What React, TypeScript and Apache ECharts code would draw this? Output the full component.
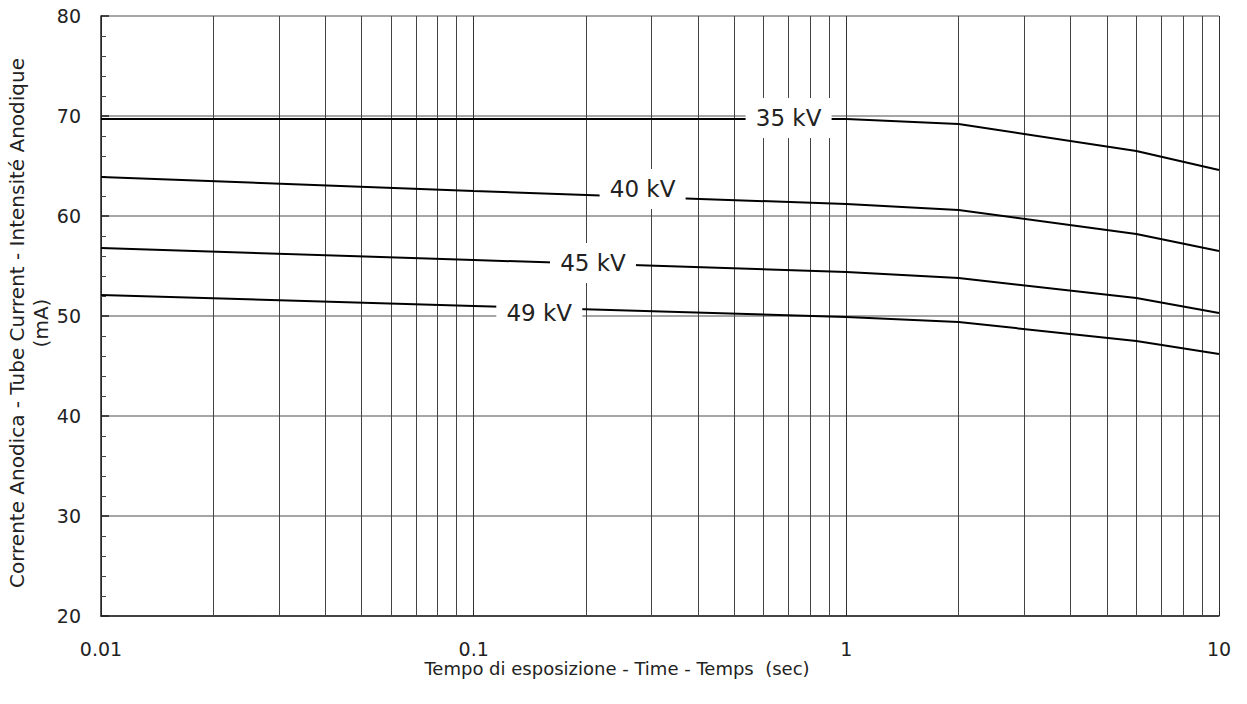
import React, { useEffect, useRef } from "react";
import * as echarts from "echarts";

const times = [0.01, 0.1, 1, 2, 6, 10];
const kv35 = [69.7, 69.7, 69.7, 69.2, 66.5, 64.6];
const kv40 = [63.9, 62.5, 61.2, 60.6, 58.2, 56.5];
const kv45 = [56.8, 55.6, 54.4, 53.8, 51.8, 50.3];
const kv49 = [52.1, 51.0, 49.9, 49.4, 47.5, 46.2];

const seriesNames = ["35 kV", "40 kV", "45 kV", "49 kV"];
const labelX = [0.7, 0.284, 0.209, 0.15];
const labelY = [69.8, 62.7, 55.3, 50.3];

const minorGridX = [
  0.02, 0.03, 0.04, 0.05, 0.06, 0.07, 0.08, 0.09,
  0.2, 0.3, 0.4, 0.5, 0.6, 0.7, 0.8, 0.9,
  2, 3, 4, 5, 6, 7, 8, 9,
];

const FONT = "'DejaVu Sans', sans-serif";

export default function App() {
  const ref = useRef<HTMLDivElement>(null);
  useEffect(() => {
    document.body.style.margin = "0";
    const chart = echarts.init(ref.current!, null, { renderer: "svg" });
    const allSeries = [kv35, kv40, kv45, kv49];
    const lineSeries = allSeries.map((vals, i) => ({
      type: "line",
      name: seriesNames[i],
      z: 3,
      data: times.map((t, j) => [t, vals[j]]),
      symbol: "none",
      lineStyle: { color: "#000", width: 2 },
      markPoint: {
        z: 6,
        symbol: "rect",
        symbolSize: [86, 40],
        itemStyle: { color: "#fff" },
        label: {
          show: true,
          position: "inside",
          formatter: seriesNames[i],
          color: "#222",
          fontSize: 23,
          fontFamily: FONT,
        },
        data: [{ coord: [labelX[i], labelY[i]] }],
      },
    }));
    chart.setOption({
      animation: false,
      textStyle: { fontFamily: FONT },
      grid: {
        left: 101,
        right: 28,
        top: 16,
        bottom: 88,
        containLabel: false,
        outerBoundsMode: "none",
      },
      xAxis: {
        type: "log",
        logBase: 10,
        min: 0.01,
        max: 10,
        name: "Tempo di esposizione - Time - Temps  (sec)",
        nameLocation: "middle",
        nameGap: 43,
        nameMoveOverlap: false,
        nameTextStyle: {
          fontSize: 18,
          color: "#222",
          fontFamily: FONT,
          padding: [0, 86, 0, 0],
        },
        axisLine: { lineStyle: { color: "#222", width: 1.5 } },
        axisTick: { inside: true, length: 5, lineStyle: { color: "#222" } },
        axisLabel: {
          fontSize: 19,
          color: "#222",
          margin: 23,
          fontFamily: FONT,
          formatter: (v: number) => String(v),
        },
        splitLine: { show: true, lineStyle: { color: "#333", width: 1 } },
      },
      yAxis: {
        type: "value",
        min: 20,
        max: 80,
        interval: 10,
        name: "Corrente Anodica - Tube Current - Intensité Anodique\n(mA)",
        nameLocation: "middle",
        nameRotate: 90,
        nameGap: 48,
        nameMoveOverlap: false,
        nameTextStyle: {
          fontSize: 20,
          color: "#222",
          lineHeight: 24,
          fontFamily: FONT,
          padding: [0, 14, 0, 0],
        },
        axisLine: { show: true, lineStyle: { color: "#222", width: 1.5 } },
        axisTick: { show: true, inside: true, length: 8, lineStyle: { color: "#222", width: 1.5 } },
        minorTick: { show: true, splitNumber: 5, length: 5, lineStyle: { color: "#444" } },
        axisLabel: { fontSize: 19, color: "#222", margin: 20, fontFamily: FONT },
        splitLine: { show: true, lineStyle: { color: "#888", width: 1.5 } },
      },
      series: [
        {
          type: "line",
          name: "grid",
          z: 1,
          data: [],
          silent: true,
          markLine: {
            z: 1,
            silent: true,
            symbol: "none",
            label: { show: false },
            lineStyle: { color: "#444", width: 1, type: "solid" },
            data: minorGridX.map((x) => ({ xAxis: x })),
          },
        },
        ...lineSeries,
      ],
    });
    return () => chart.dispose();
  }, []);
  return <div ref={ref} style={{ width: 1247, height: 704 }} />;
}
